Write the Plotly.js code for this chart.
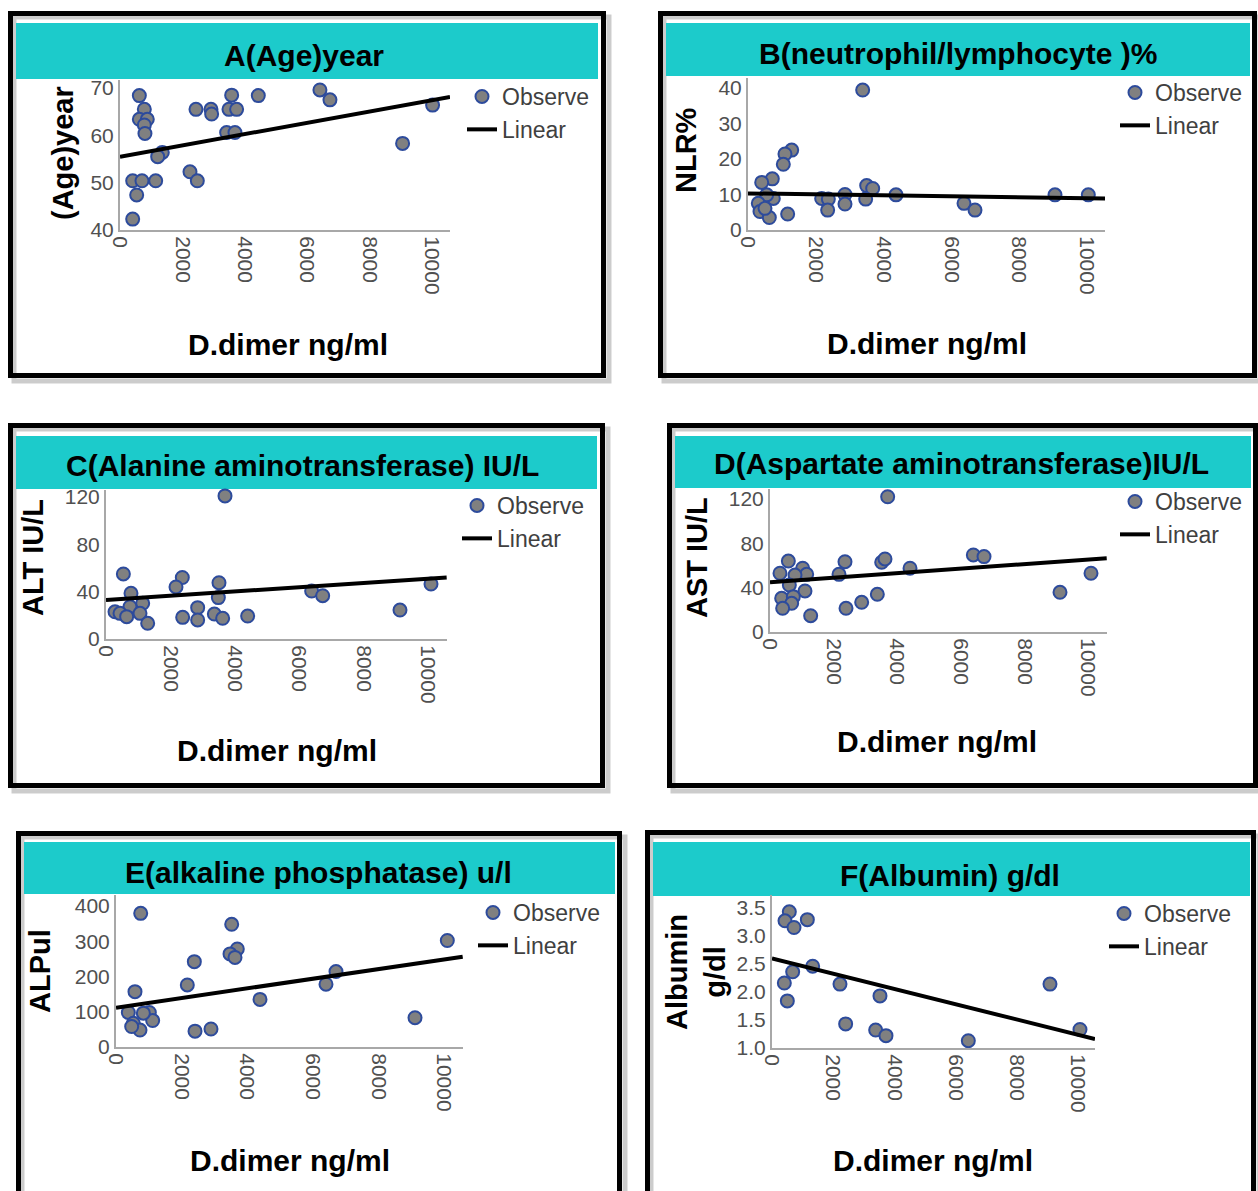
<!DOCTYPE html>
<html>
<head>
<meta charset="utf-8">
<script src="https://cdn.plot.ly/plotly-3.0.1.min.js"></script>
<style>html,body{margin:0;padding:0;background:#fff}</style>
</head>
<body>
<div id="chart" style="width:1258px;height:1191px"></div>
<script>
// ---------- DATA ----------
const xTickVals = [0, 2000, 4000, 6000, 8000, 10000];
const xTickText = ['0', '2000', '4000', '6000', '8000', '10000'];
const seriesNames = ['Observe', 'Linear'];
const panelTitles = ['A(Age)year', 'B(neutrophil/lymphocyte )%', 'C(Alanine aminotransferase) IU/L',
  'D(Aspartate aminotransferase)IU/L', 'E(alkaline phosphatase) u/l', 'F(Albumin) g/dl'];
const yAxisTitles = ['(Age)year', 'NLR%', 'ALT IU/L', 'AST IU/L', 'ALPul', 'Albumin<br>g/dl'];
const xAxisTitle = 'D.dimer ng/ml';

// A: Age (year)
const ageDdimer = [620, 780, 620, 875, 780, 800, 1356, 1208, 407, 705, 1144, 535, 407, 2436, 2917, 2938, 3580, 3494, 3739, 3419, 3686, 4434, 2244, 2479, 6410, 6731, 9060, 10022];
const ageYear   = [68.4, 65.5, 63.4, 63.4, 62.2, 60.4, 56.4, 55.5, 50.4, 50.4, 50.4, 47.4, 42.3, 65.5, 65.5, 64.5, 68.5, 65.5, 65.5, 60.6, 60.6, 68.4, 52.3, 50.4, 69.6, 67.5, 58.3, 66.4];
const ageFitX = [0, 10580];
const ageFitY = [55.5, 68.1];

// B: NLR %
const nlrDdimer = [3383, 1289, 1091, 1042, 717, 404, 747, 551, 304, 354, 629, 1170, 501, 2173, 2370, 2350, 2861, 2861, 3501, 3678, 3471, 4366, 6372, 6696, 9056, 10039];
const nlrValue  = [39.4, 22.5, 21.4, 18.5, 14.4, 13.4, 8.9, 9.9, 7.5, 5.2, 3.5, 4.5, 6.1, 8.9, 8.7, 5.6, 10.0, 7.3, 12.5, 11.7, 8.7, 9.9, 7.5, 5.6, 9.9, 9.9];
const nlrFitX = [0, 10531];
const nlrFitY = [10.3, 8.9];

// C: ALT IU/L
const altDdimer = [3696, 539, 2370, 2174, 3509, 3489, 776, 1139, 745, 280, 435, 642, 1056, 1294, 2381, 2847, 2847, 3365, 3623, 4399, 6387, 6729, 9130, 10093];
const altValue  = [121, 55, 52, 44, 47.6, 35, 38.6, 30.2, 27.3, 23, 21.7, 18.9, 21.7, 13.3, 18.3, 26.5, 16.1, 21.1, 17.5, 19.4, 40.6, 36.6, 24.5, 46.5];
const altFitX = [0, 10580];
const altFitY = [33, 52];

// D: AST IU/L
const astDdimer = [3700, 577, 314, 1027, 1153, 786, 608, 1100, 367, 734, 681, 398, 1279, 2358, 2170, 2390, 2883, 3375, 3512, 3616, 4403, 6394, 6730, 9119, 10094];
const astValue  = [122, 64, 53, 57.5, 52, 51.4, 42.4, 37, 30.4, 31.9, 25.9, 21.4, 14.7, 63.4, 52, 21.4, 26.8, 34, 62.9, 65.9, 57.5, 69.5, 68, 35.8, 53];
const astFitX = [0, 10588];
const astFitY = [44.8, 66.5];

// E: ALP u/l
const alpDdimer = [753, 3527, 10101, 3698, 3476, 3628, 2388, 2174, 6707, 6402, 4390, 579, 9116, 376, 1016, 1118, 529, 732, 478, 2409, 2896, 834];
const alpValue  = [379, 348, 302, 278, 264, 254, 242, 176, 214, 178, 135, 157, 83, 98, 98, 75, 67, 48, 58, 45, 51, 96];
const alpFitX = [0, 10570];
const alpFitY = [111.5, 256];

// F: Albumin g/dl
const albDdimer = [566, 425, 719, 1155, 1329, 676, 403, 501, 2222, 3529, 2407, 3388, 3725, 6416, 9085, 10065];
const albValue  = [3.43, 3.27, 3.15, 3.29, 2.46, 2.36, 2.16, 1.84, 2.14, 1.93, 1.43, 1.32, 1.22, 1.13, 2.14, 1.33];
const albFitX = [0, 10556];
const albFitY = [2.6, 1.16];

const yTickVals = [
  [40, 50, 60, 70],
  [0, 10, 20, 30, 40],
  [0, 40, 80, 120],
  [0, 40, 80, 120],
  [0, 100, 200, 300, 400],
  [1.0, 1.5, 2.0, 2.5, 3.0, 3.5]
];

const seriesX = [ageDdimer, nlrDdimer, altDdimer, astDdimer, alpDdimer, albDdimer];
const seriesY = [ageYear, nlrValue, altValue, astValue, alpValue, albValue];
const fitX = [ageFitX, nlrFitX, altFitX, astFitX, alpFitX, albFitX];
const fitY = [ageFitY, nlrFitY, altFitY, astFitY, alpFitY, albFitY];

// ---------- LAYOUT GEOMETRY (pixels) ----------
const W = 1258, H = 1191;
const fx = p => p / W;
const fy = p => 1 - p / H;

const geom = [
  { frame:[8,11,606,378],   bar:[16,23,598,79],   plot:[120,80,450,230],   xr:10580, yr:[40,71.7],
    title:[304,55], ylab:[63,153], xlab:[288,345], leg:[462,75] },
  { frame:[658,11,1257,378], bar:[666,23,1250,76], plot:[748,78,1105,230], xr:10531, yr:[0,42.8],
    title:[958,53], ylab:[686,150], xlab:[927,343], leg:[1115,71] },
  { frame:[8,423,605,788],  bar:[16,436,597,489], plot:[106,490,447,639],  xr:10590, yr:[0,126],
    title:[302,466], ylab:[33,558], xlab:[277,750], leg:[457,484] },
  { frame:[667,423,1258,788], bar:[675,436,1251,488], plot:[770,489,1107,632], xr:10597, yr:[0,129],
    title:[962,463], ylab:[697,558], xlab:[937,741], leg:[1115,480] },
  { frame:[16,831,622,1196], bar:[24,842,615,894], plot:[116,895,463,1047], xr:10579, yr:[0,431],
    title:[318,872], ylab:[40,971], xlab:[290,1160], leg:[473,891] },
  { frame:[645,830,1256,1196], bar:[653,842,1250,896], plot:[772,895,1095,1048], xr:10556, yr:[1.0,3.73],
    title:[950,875], ylab:[696,972], xlab:[933,1160], leg:[1104,892] }
];

const tickFont = { family: 'Liberation Sans, Arial, sans-serif', size: 21, color: '#505050' };
const legFont = { family: 'Liberation Sans, Arial, sans-serif', size: 23, color: '#404040' };
const titleFont = { family: 'Liberation Sans, Arial, sans-serif', size: 30, color: '#000000' };
const yLabFont = { family: 'Liberation Sans, Arial, sans-serif', size: 29, color: '#000000' };

const traces = [];
const layout = {
  width: W, height: H,
  margin: { l: 0, r: 0, t: 0, b: 0 },
  paper_bgcolor: '#ffffff',
  plot_bgcolor: 'rgba(0,0,0,0)',
  shapes: [], annotations: []
};

geom.forEach((g, i) => {
  const n = i + 1;
  const sfx = n === 1 ? '' : String(n);
  const legName = 'legend' + sfx;

  traces.push({
    type: 'scatter', mode: 'markers',
    x: seriesX[i], y: seriesY[i],
    xaxis: 'x' + sfx, yaxis: 'y' + sfx,
    name: seriesNames[0], legend: legName, legendgroup: 'obs' + n,
    cliponaxis: false,
    marker: { size: 13, color: '#808080', line: { color: '#2d4b9c', width: 2 } }
  });
  traces.push({
    type: 'scatter', mode: 'lines',
    x: fitX[i], y: fitY[i],
    xaxis: 'x' + sfx, yaxis: 'y' + sfx,
    name: seriesNames[1], legend: legName, legendgroup: 'lin' + n,
    cliponaxis: false,
    line: { color: '#000000', width: 4 }
  });

  const p = g.plot;
  layout['xaxis' + sfx] = {
    domain: [fx(p[0]), fx(p[2])], anchor: 'y' + sfx,
    range: [0, g.xr], tickmode: 'array', tickvals: xTickVals, ticktext: xTickText, tickangle: 90,
    showline: true, linecolor: '#a8a8a8', linewidth: 2,
    showgrid: false, zeroline: false, ticks: '', tickfont: tickFont, fixedrange: true
  };
  layout['yaxis' + sfx] = {
    domain: [fy(p[3]), fy(p[1])], anchor: 'x' + sfx,
    range: g.yr, tickmode: 'array', tickvals: yTickVals[i], tickformat: i === 5 ? '.1f' : '',
    showline: true, linecolor: '#a8a8a8', linewidth: 2,
    showgrid: false, zeroline: false, ticks: '', tickfont: tickFont, fixedrange: true
  };
  layout[legName] = {
    x: fx(g.leg[0]), y: fy(g.leg[1]), xanchor: 'left', yanchor: 'top',
    xref: 'paper', yref: 'paper',
    bgcolor: 'rgba(0,0,0,0)', borderwidth: 0,
    font: legFont, tracegroupgap: 0, itemwidth: 30
  };

  const f = g.frame, b = g.bar;
  // shadow
  layout.shapes.push({ type: 'rect', xref: 'paper', yref: 'paper', layer: 'below',
    x0: fx(f[0] + 6), x1: fx(f[2] + 3), y0: fy(f[3] + 3), y1: fy(f[1] + 6),
    line: { color: 'rgba(0,0,0,0.2)', width: 5 }, fillcolor: 'rgba(0,0,0,0)' });
  // teal title bar
  layout.shapes.push({ type: 'rect', xref: 'paper', yref: 'paper', layer: 'below',
    x0: fx(b[0]), x1: fx(b[2]), y0: fy(b[3]), y1: fy(b[1]),
    line: { width: 0 }, fillcolor: '#1ccbcb' });
  // frame
  layout.shapes.push({ type: 'rect', xref: 'paper', yref: 'paper', layer: 'above',
    x0: fx(f[0] + 2.5), x1: fx(f[2] - 2.5), y0: fy(f[3] - 2.5), y1: fy(f[1] + 2.5),
    line: { color: '#000000', width: 5 }, fillcolor: 'rgba(0,0,0,0)' });

  layout.annotations.push({ xref: 'paper', yref: 'paper', x: fx(g.title[0]), y: fy(g.title[1]),
    xanchor: 'center', yanchor: 'middle', showarrow: false,
    text: '<b>' + panelTitles[i] + '</b>', font: titleFont });
  layout.annotations.push({ xref: 'paper', yref: 'paper', x: fx(g.ylab[0]), y: fy(g.ylab[1]),
    xanchor: 'center', yanchor: 'middle', showarrow: false, textangle: -90,
    text: '<b>' + yAxisTitles[i] + '</b>', font: yLabFont });
  layout.annotations.push({ xref: 'paper', yref: 'paper', x: fx(g.xlab[0]), y: fy(g.xlab[1]),
    xanchor: 'center', yanchor: 'middle', showarrow: false,
    text: '<b>' + xAxisTitle + '</b>', font: titleFont });
});

Plotly.newPlot('chart', traces, layout, { staticPlot: true, displayModeBar: false });
</script>
</body>
</html>
